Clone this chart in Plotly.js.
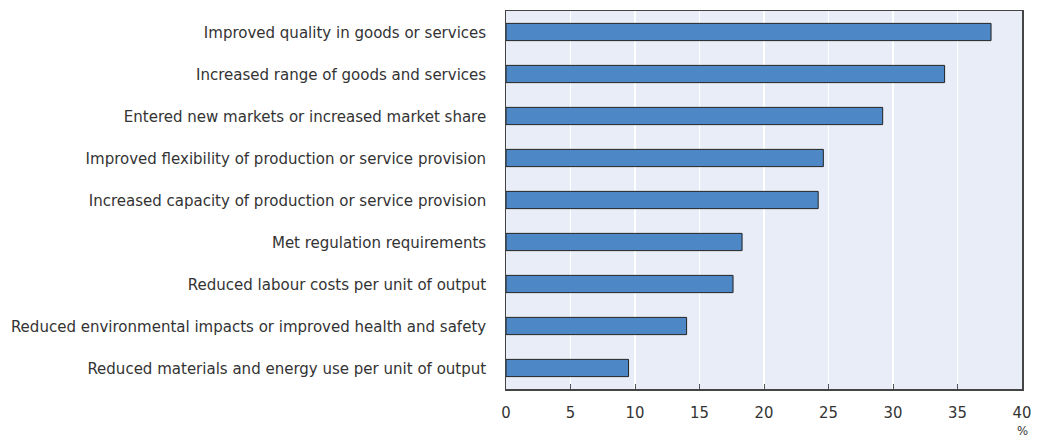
<!DOCTYPE html>
<html>
<head>
<meta charset="utf-8">
<script src="https://cdn.plot.ly/plotly-3.0.1.min.js"></script>
<style>html,body{margin:0;padding:0;background:#fff;}#chart{width:1044px;height:440px;}</style>
</head>
<body>
<div id="chart"></div>
<script>
var categories = [
  "Improved quality in goods or services",
  "Increased range of goods and services",
  "Entered new markets or increased market share",
  "Improved flexibility of production or service provision",
  "Increased capacity of production or service provision",
  "Met regulation requirements",
  "Reduced labour costs per unit of output",
  "Reduced environmental impacts or improved health and safety",
  "Reduced materials and energy use per unit of output"
];
var values = [37.6, 34.0, 29.2, 24.6, 24.2, 18.3, 17.6, 14.0, 9.5];
var tickVals = [0, 5, 10, 15, 20, 25, 30, 35, 40];
var unitLabel = "%";

var FONT = "'DejaVu Sans Condensed', 'Liberation Sans Narrow', sans-serif";

var trace = {
  type: 'bar',
  orientation: 'h',
  y: categories,
  x: values,
  marker: {color: '#4D87C6', line: {color: '#222222', width: 1}},
  hoverinfo: 'x+y'
};

var layout = {
  width: 1044,
  height: 440,
  margin: {l: 506, r: 22, t: 11, b: 51, pad: 0},
  paper_bgcolor: '#ffffff',
  plot_bgcolor: '#E9EDF7',
  bargap: 0.59,
  showlegend: false,
  font: {family: FONT, size: 16.7, color: '#333333'},
  xaxis: {
    range: [0, 40],
    tickvals: tickVals,
    ticktext: tickVals.map(String),
    showgrid: true,
    gridcolor: '#ffffff',
    gridwidth: 1.5,
    zeroline: false,
    ticks: 'inside',
    ticklen: 5,
    tickcolor: '#555555',
    ticklabelstandoff: 8,
    showline: true,
    linecolor: '#444444',
    linewidth: 1.5,
    mirror: true,
    tickfont: {family: FONT, size: 16.5, color: '#333333'},
    fixedrange: true
  },
  yaxis: {
    autorange: 'reversed',
    showgrid: false,
    zeroline: false,
    ticks: '',
    ticklabelstandoff: 15,
    showline: true,
    linecolor: '#444444',
    linewidth: 1.5,
    mirror: true,
    tickfont: {family: FONT, size: 16.7, color: '#333333'},
    fixedrange: true
  },
  annotations: [{
    x: 40, xref: 'x',
    y: 0, yref: 'paper',
    yshift: -32,
    text: unitLabel,
    showarrow: false,
    xanchor: 'center', yanchor: 'top',
    font: {family: FONT, size: 13, color: '#333333'}
  }]
};

Plotly.newPlot('chart', [trace], layout, {displayModeBar: false, staticPlot: true});
</script>
</body>
</html>
